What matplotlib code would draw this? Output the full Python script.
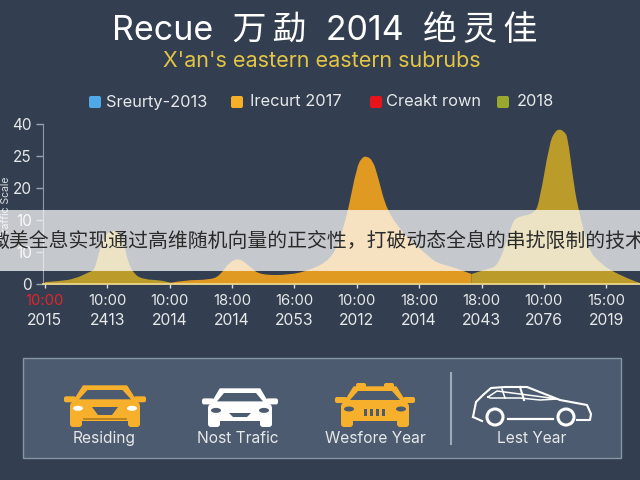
import matplotlib
matplotlib.use("Agg")
import matplotlib.pyplot as plt
import matplotlib.patches as patches
from matplotlib.path import Path

plt.rcParams['font.family'] = ['Inter', 'Noto Sans CJK SC', 'DejaVu Sans']

BG = '#333f50'
PANEL = '#4c5b6f'
ORANGE = '#e09a22'
OLIVE = '#bb9c2b'
YELLOW = '#f7b02c'

title = 'Recue  万\u2009勐  2014  绝\u2009灵\u2009佳'
subtitle = "X'an's eastern eastern subrubs"
banner_text = '微美全息实现通过高维随机向量的正交性，打破动态全息的串扰限制的技术'

legend_names = ['Sreurty-2013', 'Irecurt 2017', 'Creakt rown', '2018']
legend_colors = ['#4fa8e8', '#f5b027', '#e8141c', '#9aa82f']

y_tick_labels = ['0', '10', '10', '20', '25', '40']
hour_labels = ['10:00', '10:00', '10:00', '18:00', '16:00', '10:00', '18:00', '18:00', '10:00', '15:00']
year_labels = ['2015', '2413', '2014', '2014', '2053', '2012', '2014', '2043', '2076', '2019']

# position along the axis in tick slots, height in tenths of a tick slot
x_left = [0.00, 0.24, 0.48, 0.72, 0.80, 0.88, 0.96, 1.04, 1.20, 1.28, 1.33, 1.44, 1.60, 1.84, 2.02]
y_left = [0.6, 0.9, 1.6, 3.8, 4.4, 11.0, 15.0, 16.5, 16.5, 12.0, 6.9, 2.8, 1.4, 1.2, 0.4]

x_mid = [2.02, 2.24, 2.64, 2.80, 2.96, 3.12, 3.29, 3.45, 3.93, 4.25, 4.52, 4.68, 4.78, 4.86, 5.00, 5.08,
         5.16, 5.26, 5.34, 5.48, 5.74, 5.90, 6.17, 6.28, 6.54, 6.84]
y_mid = [0.4, 1.2, 1.3, 2.5, 6.9, 8.1, 5.3, 2.8, 2.8, 4.4, 6.9, 11.0, 17.5, 23.0, 36.5, 39.5,
         40.0, 38.5, 33.5, 23.0, 16.0, 12.8, 8.4, 6.6, 5.3, 3.1]

x_right = [6.84, 7.08, 7.24, 7.37, 7.48, 7.56, 7.85, 7.93, 8.09, 8.17, 8.25, 8.33, 8.38, 8.46, 8.54, 8.73,
           8.89, 9.05, 9.37, 9.54]
y_right = [3.1, 4.7, 5.3, 11.2, 18.4, 21.0, 21.9, 26.0, 44.0, 47.5, 48.5, 47.5, 46.0, 34.0, 24.0, 10.0,
           6.9, 4.4, 1.5, 0.3]


def smooth_fill(ax, xs, ys, color):
    # the outline runs through the midpoints, with each reading as a curve control point
    verts = [(xs[0], 0), (xs[0], ys[0])]
    codes = [Path.MOVETO, Path.LINETO]
    for i in range(1, len(xs) - 1):
        end = ((xs[i] + xs[i + 1]) / 2, (ys[i] + ys[i + 1]) / 2)
        verts += [(xs[i], ys[i]), end]
        codes += [Path.CURVE3, Path.CURVE3]
    verts += [(xs[-1], ys[-1]), (xs[-1], 0), (xs[0], 0)]
    codes += [Path.LINETO, Path.LINETO, Path.CLOSEPOLY]
    ax.add_patch(patches.PathPatch(Path(verts, codes), fc=color, ec='none'))


fig = plt.figure(figsize=(6.4, 4.8), dpi=100, facecolor=BG)

ax = fig.add_axes([43 / 640, 196 / 480, 597 / 640, 160 / 480], facecolor='none')
smooth_fill(ax, x_left, y_left, OLIVE)
smooth_fill(ax, x_mid, y_mid, ORANGE)
smooth_fill(ax, x_right, y_right, OLIVE)
ax.set_xlim(-0.03, 9.54)
ax.set_ylim(0, 50)
ax.set_yticks(range(0, 60, 10), y_tick_labels)
ax.set_xticks(range(len(hour_labels)), hour_labels)
ax.tick_params(axis='y', colors='#9aa4b0', labelcolor='#e6e8ea', labelsize=11, length=5, width=1, pad=3)
ax.tick_params(axis='x', colors='#d8dce0', labelcolor='#e6e8ea', labelsize=10.7, length=3, width=1, pad=4)
ax.get_xticklabels()[0].set_color('#e0252b')
for i, year in enumerate(year_labels):
    ax.text(i, -0.23, year, transform=ax.get_xaxis_transform(), ha='center', va='center',
            color='#e6e8ea', fontsize=11.3)
for side in ['top', 'right']:
    ax.spines[side].set_visible(False)
ax.spines['left'].set_color('#8f99a6')
ax.spines['bottom'].set_color('#ecd68c')
ax.spines['bottom'].set_linewidth(1.3)


def rounded(ov, x, y, w, h, r, color, z=5):
    ov.add_patch(patches.FancyBboxPatch((x, y), w, h, boxstyle=f'round,pad=0,rounding_size={r}',
                                        fc=color, ec='none', zorder=z))


def front_car(ov, cx, top, bottom, half, color, lamp):
    # car seen from the front: cabin, body, wheels, mirrors and lamps
    mid = top + (bottom - top) * 0.30
    low = bottom - 9
    ov.add_patch(patches.Polygon([(cx - half + 3, mid + 4), (cx - half * 0.62, top), (cx + half * 0.62, top),
                                  (cx + half - 3, mid + 4)], fc=color, ec=color, lw=1, joinstyle='round', zorder=5))
    ov.add_patch(patches.Polygon([(cx - half + 9, mid + 1), (cx - half * 0.50, top + 4), (cx + half * 0.50, top + 4),
                                  (cx + half - 9, mid + 1)], fc=PANEL, ec='none', zorder=6))
    rounded(ov, cx - half, mid + 3, 2 * half, low - mid, 5, color)
    for sign in (-1, 1):
        rounded(ov, cx + sign * half - 6, mid - 2, 12, 6, 2, color)
        rounded(ov, cx + sign * (half - 6) - 6, low - 3, 12, bottom - low + 3, 3, color)
        ov.add_patch(patches.Ellipse((cx + sign * (half - 8), mid + 10), 10, 5, fc=lamp, ec='none', zorder=6))


ov = fig.add_axes([0, 0, 1, 1], facecolor='none')
ov.set_xlim(0, 640)
ov.set_ylim(480, 0)
ov.axis('off')

ov.text(325, 31, title, color='white', fontsize=24.5, ha='center', va='center')
ov.text(322, 61, subtitle, color='#e3c545', fontsize=15.5, ha='center', va='center')

legend_square_x = [89, 231, 370, 497]
legend_text_x = [106, 250, 386, 517]
for sx, tx, name, color in zip(legend_square_x, legend_text_x, legend_names, legend_colors):
    ov.add_patch(patches.FancyBboxPatch((sx, 96), 12, 12, boxstyle='round,pad=0,rounding_size=2', fc=color, ec='none'))
    ov.text(tx, 102, name, color='#e6e8ea', fontsize=11.8, ha='left', va='center')

ov.text(6, 208, 'Traffic Scale', color='#d8dce0', fontsize=7.5, rotation=90, ha='center', va='center')

ov.add_patch(patches.Rectangle((0, 210), 640, 61, fc='white', alpha=0.72, ec='none', zorder=3))
ov.text(318, 241, banner_text, color='#2a2a2a', fontsize=14.3, ha='center', va='center', zorder=4)

ov.add_patch(patches.Rectangle((22.5, 357.5), 598, 100, fc=PANEL, ec='#8794a3', lw=1))
ov.plot([451, 451], [373, 444], color='#a0abb8', lw=1.5)

front_car(ov, 105, 386, 427, 35, YELLOW, 'white')
ov.add_patch(patches.Polygon([(92, 407), (118, 407), (112, 415), (98, 415)], fc=PANEL, ec='none', zorder=6))
ov.plot([84, 126], [419, 419], color='#b07c1c', lw=1.2, zorder=6)

front_car(ov, 240, 389, 427, 32, 'white', PANEL)
ov.add_patch(patches.Polygon([(229, 413), (251, 413), (247, 417), (233, 417)], fc=PANEL, ec='none', zorder=6))

front_car(ov, 375, 387, 427, 34, YELLOW, PANEL)
for sign in (-1, 1):
    rounded(ov, 375 + sign * 14 - 5, 383, 10, 5, 2, YELLOW)
for bx in [364, 370, 376, 382]:
    ov.add_patch(patches.Rectangle((bx, 409), 3, 7, fc=PANEL, ec='none', zorder=6))

# side view outline of the last car
outline_x = [473, 476, 483, 491, 505, 527, 560, 587, 591, 590, 577]
outline_y = [417, 402, 395, 388, 387, 387, 400, 405, 414, 420, 420]
ov.plot(outline_x, outline_y, color='white', lw=1.5, zorder=6)
ov.plot([473, 482], [417, 421], color='white', lw=1.5, zorder=6)
ov.plot([508, 553], [419, 419], color='white', lw=1.6, zorder=6)
ov.plot([488, 497, 558, 540, 520, 490, 488], [397, 391, 399, 400, 398, 398, 397], color='white', lw=1.1, zorder=6)
ov.plot([502, 505], [389, 398], color='white', lw=1.1, zorder=6)
ov.plot([520, 524], [387, 400], color='white', lw=1.5, zorder=6)
for wx in [495, 566]:
    ov.add_patch(patches.Circle((wx, 417), 8, fc=PANEL, ec='white', lw=2.2, zorder=7))

car_names = ['Residing', 'Nost Trafic', 'Wesfore Year', 'Lest Year']
car_name_x = [104, 238, 375, 532]
for nx, name in zip(car_name_x, car_names):
    ov.text(nx, 438.5, name, color='#e6e8ea', fontsize=11.2, ha='center', va='center')

fig.savefig('out.png', dpi=100, facecolor=BG)
